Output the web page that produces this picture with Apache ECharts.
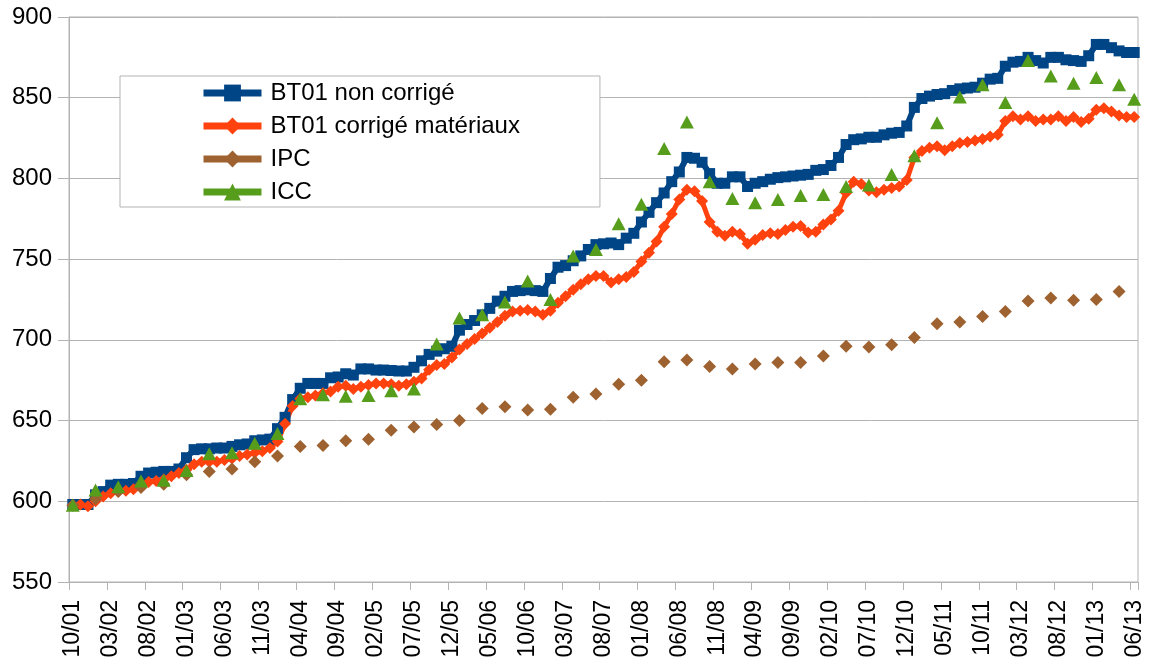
<!DOCTYPE html>
<html>
<head>
<meta charset="utf-8">
<script src="https://cdn.jsdelivr.net/npm/echarts@6/dist/echarts.min.js"></script>
<style>
html,body{margin:0;padding:0;background:#fff;}
#chart{width:1153px;height:663px;}
</style>
</head>
<body>
<div id="chart"></div>
<script>
// Monthly categories (10/01 .. 06/13)
const months = [
  '10/01','11/01','12/01',
  '01/02','02/02','03/02','04/02','05/02','06/02','07/02','08/02','09/02','10/02','11/02','12/02',
  '01/03','02/03','03/03','04/03','05/03','06/03','07/03','08/03','09/03','10/03','11/03','12/03',
  '01/04','02/04','03/04','04/04','05/04','06/04','07/04','08/04','09/04','10/04','11/04','12/04',
  '01/05','02/05','03/05','04/05','05/05','06/05','07/05','08/05','09/05','10/05','11/05','12/05',
  '01/06','02/06','03/06','04/06','05/06','06/06','07/06','08/06','09/06','10/06','11/06','12/06',
  '01/07','02/07','03/07','04/07','05/07','06/07','07/07','08/07','09/07','10/07','11/07','12/07',
  '01/08','02/08','03/08','04/08','05/08','06/08','07/08','08/08','09/08','10/08','11/08','12/08',
  '01/09','02/09','03/09','04/09','05/09','06/09','07/09','08/09','09/09','10/09','11/09','12/09',
  '01/10','02/10','03/10','04/10','05/10','06/10','07/10','08/10','09/10','10/10','11/10','12/10',
  '01/11','02/11','03/11','04/11','05/11','06/11','07/11','08/11','09/11','10/11','11/11','12/11',
  '01/12','02/12','03/12','04/12','05/12','06/12','07/12','08/12','09/12','10/12','11/12','12/12',
  '01/13','02/13','03/13','04/13','05/13','06/13'
];

// BT01 non corrigé (monthly)
const bt01 = [
  598,598,598,
  604,606,610,610.5,610.5,611,615.5,617.5,618,618.5,618.5,620,
  627,632,632.5,632.5,633,633,634,635,635.5,637.5,638,638.5,
  645,652,663,670,673,673,673,676.5,677,679,678.2,682,
  682,681.3,681.3,681,680.7,680.7,683,687,691,693,694.5,696,
  706,709.5,712,715.5,719.5,724,727,730,730.5,731,730.5,730,
  738,745,746,749,752,756,759,759.5,760,759,763,766,
  773,779,785,791,798,804,813,812.5,810,803,797,797,
  801,801,795,797,798,799.5,800.5,801,801.5,802,802.5,805,
  805.5,808,813,821,824,824.5,825.5,825.5,827,828,828.5,832.5,
  844,849.5,851,852,852.5,854.5,855.5,856,856.5,859,861.5,862,
  869.5,872,872.5,875,873,871.5,875,875,873.5,873,872.5,876,
  883,883,881,879,878,878
];

// BT01 corrigé matériaux (monthly)
const bt01c = [
  597.5,598,597,
  600,603,605,606,606.5,607.5,610.5,612,612.5,613.5,615.5,617.5,
  619.5,623,624.5,624.5,624.5,625.5,626.5,628,629,630,631,633,
  637,648,659,663.5,664.5,665.5,667,668,671,671.5,669.5,671,
  672,673,673,672.5,671.5,672.5,674,676,681.5,684.5,685,689,
  694,697.5,700.5,704,707.5,711,715,717.5,718,718.5,717.5,715.5,
  718,723,727,731,734.5,737.5,739.5,739.5,735.5,737.5,739,742,
  748.5,754,761,770,778,787,793,792,786,773,767,764.5,
  767,765.5,759.5,762,765,766,765.5,768,770,770.5,766.5,767,
  771.5,774.5,780,791,798,796.5,792.5,791.5,793,794,795,799,
  813,817,819,820,817.5,820,822,822.5,823.5,824.5,826,827,
  835.5,838.5,836.5,838.5,835.5,836.5,836.5,838.5,835.5,838,835,837,
  842.5,843.5,841.5,839,838,838
];

// IPC (quarterly)
const ipcDates = [
  '10/01','01/02','04/02','07/02','10/02','01/03','04/03','07/03','10/03','01/04','04/04','07/04',
  '10/04','01/05','04/05','07/05','10/05','01/06','04/06','07/06','10/06','01/07','04/07','07/07',
  '10/07','01/08','04/08','07/08','10/08','01/09','04/09','07/09','10/09','01/10','04/10','07/10',
  '10/10','01/11','04/11','07/11','10/11','01/12','04/12','07/12','10/12','01/13','04/13'
];
const ipc = [
  597.5,601.5,606,608.5,610.5,616.5,618.5,620,624.5,628,634,634.5,
  637.5,638.5,644,646,647.5,650,657.5,658.5,656.5,657,664.5,666.5,
  672.5,675,686.5,687.5,683.5,682,685,686,686,690,696,695.5,
  697,701.5,710,711,714.5,717.5,724,726,724.5,725,730
];

// ICC
const iccDates = [
  '10/01','01/02','04/02','07/02','10/02','01/03','04/03','07/03','10/03','01/04','04/04','07/04',
  '10/04','01/05','04/05','07/05','10/05','01/06','04/06','07/06','10/06','01/07','04/07','07/07',
  '10/07','01/08','04/08','07/08','10/08','01/09','04/09','07/09','10/09','01/10','04/10','07/10',
  '10/10','01/11','04/11','07/11','10/11','01/12','04/12','07/12','10/12','01/13','04/13','06/13'
];
const icc = [
  597.5,607,609,612.5,613,619,629.5,630,636,642,663.5,666,
  665,665.5,668.5,669.5,697.5,713.5,715.5,723.5,736.5,725,752,756,
  772,784,818.5,835,798,787.5,785,787,789.5,790,795,796,
  802.5,814,834.5,850.5,858,847,873,863.5,859,862.5,858,849
];

const yTicks = [550, 600, 650, 700, 750, 800, 850, 900];

const FONT = 'Liberation Sans, Arial, sans-serif';
const GRID_COLOR = '#b3b3b3';

const chart = echarts.init(document.getElementById('chart'), null, {renderer: 'canvas'});
chart.setOption({
  animation: false,
  backgroundColor: '#ffffff',
  textStyle: {fontFamily: FONT},
  grid: {
    left: 69, right: 15, top: 17, bottom: 81,
    show: true, borderColor: GRID_COLOR, borderWidth: 1, backgroundColor: 'transparent'
  },
  legend: {
    orient: 'vertical',
    left: 120, top: 76,
    padding: [5, 80, 3, 80],
    itemWidth: 58, itemHeight: 21, itemGap: 9,
    backgroundColor: '#ffffff',
    borderColor: GRID_COLOR, borderWidth: 1,
    lineStyle: {width: 7, opacity: 1},
    textStyle: {fontSize: 24, color: '#000', fontFamily: FONT, lineHeight: 24, padding: [0, 0, 0, 4]},
    data: ['BT01 non corrigé', 'BT01 corrigé matériaux', 'IPC', 'ICC']
  },
  xAxis: {
    type: 'category',
    data: months,
    boundaryGap: true,
    axisLine: {show: true, lineStyle: {color: GRID_COLOR, width: 1}},
    axisTick: {show: true, interval: 4, length: 8, alignWithLabel: false, lineStyle: {color: GRID_COLOR}},
    axisLabel: {interval: 4, rotate: 90, fontSize: 23, color: '#000', margin: 18, fontFamily: FONT},
    splitLine: {show: false}
  },
  yAxis: {
    type: 'value',
    min: yTicks[0], max: yTicks[yTicks.length - 1], interval: 50,
    axisLine: {show: true, lineStyle: {color: GRID_COLOR, width: 1}},
    axisTick: {show: true, length: 11, lineStyle: {color: GRID_COLOR}},
    axisLabel: {fontSize: 24, color: '#000', margin: 17, fontFamily: FONT},
    splitLine: {show: true, lineStyle: {color: GRID_COLOR, width: 1}}
  },
  series: [
    {
      name: 'BT01 non corrigé', type: 'line', data: bt01,
      color: '#004586',
      symbol: 'rect', symbolSize: 11, showAllSymbol: true,
      lineStyle: {width: 6, color: '#004586'},
      itemStyle: {color: '#004586'}
    },
    {
      name: 'BT01 corrigé matériaux', type: 'line', data: bt01c,
      color: '#ff420e',
      symbol: 'diamond', symbolSize: 12, showAllSymbol: true,
      lineStyle: {width: 5, color: '#ff420e'},
      itemStyle: {color: '#ff420e'}
    },
    {
      name: 'IPC', type: 'line',
      data: ipcDates.map((d, i) => [d, ipc[i]]),
      color: '#9e6231',
      symbol: 'diamond', symbolSize: 13, showAllSymbol: true,
      lineStyle: {width: 1, opacity: 0, color: '#9e6231'},
      itemStyle: {color: '#9e6231'}
    },
    {
      name: 'ICC', type: 'line',
      data: iccDates.map((d, i) => [d, icc[i]]),
      color: '#579d1c',
      symbol: 'triangle', symbolSize: [14, 13], showAllSymbol: true,
      lineStyle: {width: 1, opacity: 0, color: '#579d1c'},
      itemStyle: {color: '#579d1c'}
    }
  ]
});
</script>
</body>
</html>
